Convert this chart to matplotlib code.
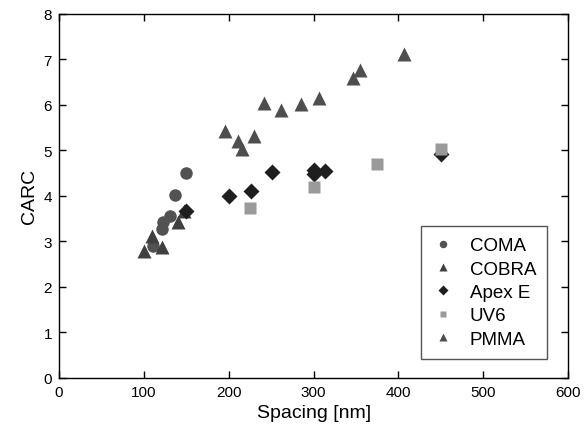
import numpy as np
import matplotlib
matplotlib.use("Agg")
import matplotlib.pyplot as plt

plt.rcParams["font.family"] = ["Liberation Sans", "DejaVu Sans"]

coma_x = [111, 121, 122, 131, 137, 150]
coma_y = [2.9, 3.27, 3.43, 3.55, 4.02, 4.5]

cobra_x = [100, 110, 121, 140, 147]
cobra_y = [2.78, 3.12, 2.88, 3.43, 3.67]

apex_x = [150, 200, 226, 251, 300, 300, 314, 450]
apex_y = [3.67, 4.0, 4.11, 4.52, 4.48, 4.58, 4.55, 4.92]

uv6_x = [225, 300, 375, 450]
uv6_y = [3.73, 4.2, 4.7, 5.03]

pmma_x = [196, 211, 216, 230, 241, 261, 285, 306, 346, 355, 406]
pmma_y = [5.43, 5.21, 5.03, 5.32, 6.04, 5.89, 6.02, 6.15, 6.59, 6.77, 7.12]

fig = plt.figure(figsize=(5.84, 4.39), dpi=100)
ax = fig.add_axes([0.101, 0.137, 0.872, 0.829])

ax.plot(coma_x, coma_y, "o", color="#525252", ms=9, mec="none", label="COMA")
ax.plot(cobra_x, cobra_y, "^", color="#404040", ms=10, mec="none", label="COBRA")
ax.plot(apex_x, apex_y, "D", color="#1e1e1e", ms=8.5, mec="none", label="Apex E")
ax.plot(uv6_x, uv6_y, "s", color="#9a9a9a", ms=8, mec="none", label="UV6")
ax.plot(pmma_x, pmma_y, "^", color="#4e4e4e", ms=10, mec="none", label="PMMA")

ax.set_xlim(0, 600)
ax.set_ylim(0, 8)
ax.set_xticks(np.arange(0, 601, 100))
ax.set_yticks(np.arange(0, 9, 1))
ax.tick_params(direction="in", length=5, width=1, top=True, right=True, labelsize=11, pad=5)
for s in ax.spines.values():
    s.set_linewidth(1)

ax.set_xlabel("Spacing [nm]", fontsize=14)
ax.set_ylabel("CARC", fontsize=14)

leg = ax.legend(loc="lower right", bbox_to_anchor=(0.959, 0.052), fontsize=13.5,
                markerscale=0.6, fancybox=False, edgecolor="#555555",
                framealpha=1, handletextpad=0.8, labelspacing=0.33,
                borderpad=0.6, handlelength=1.2, borderaxespad=0)
leg.get_frame().set_linewidth(1)

plt.savefig("out.png", dpi=100)
